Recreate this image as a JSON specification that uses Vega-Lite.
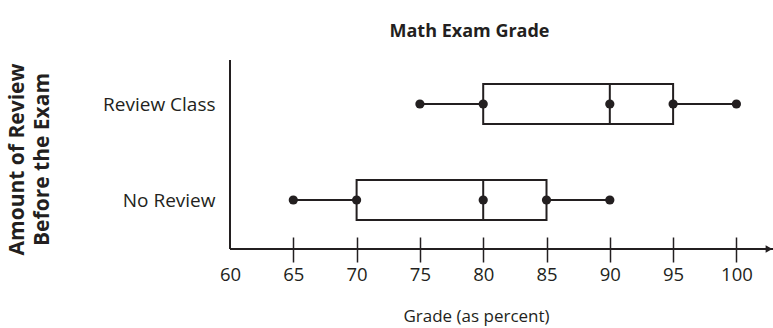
{
  "$schema": "https://vega.github.io/schema/vega-lite/v6.json",
  "width": 543,
  "height": 189,
  "autosize": {"type": "none"},
  "padding": {"left": 230, "top": 60, "right": 0, "bottom": 79},
  "background": "white",
  "config": {
    "view": {"stroke": null},
    "font": "Open Sans",
    "axis": {"labelColor": "#231f20", "titleColor": "#231f20", "domainColor": "#231f20", "tickColor": "#231f20"}
  },
  "title": {
    "text": "Math Exam Grade",
    "font": "Open Sans",
    "fontSize": 18,
    "fontWeight": "bold",
    "color": "#231f20",
    "anchor": "middle",
    "dx": -32,
    "offset": 18
  },
  "datasets": {
    "boxes": [
      {"group": "Review Class", "min": 75, "q1": 80, "median": 90, "q3": 95, "max": 100},
      {"group": "No Review", "min": 65, "q1": 70, "median": 80, "q3": 85, "max": 90}
    ]
  },
  "layer": [
    {
      "data": {"name": "boxes"},
      "mark": {"type": "rule", "color": "#231f20", "strokeWidth": 2},
      "encoding": {
        "x": {"field": "min", "type": "quantitative",
          "scale": {"domain": [60, 102.89], "nice": false, "zero": false},
          "axis": {
            "title": "Grade (as percent)",
            "orient": "bottom",
            "values": [60, 65, 70, 75, 80, 85, 90, 95, 100],
            "offset": -12,
            "tickSize": 25,
            "tickWidth": 1.5,
            "tickOpacity": {"expr": "datum.value == 60 ? 0 : 1"},
            "domain": false,
            "grid": false,
            "labelFontSize": 18.5,
            "labelBaseline": "alphabetic",
            "labelPadding": 18,
            "labelFlush": false,
            "titleFontSize": 17,
            "titleFontWeight": "normal",
            "titleBaseline": "alphabetic",
            "titleAlign": "center",
            "titleX": 246,
            "titleY": 84
          }
        },
        "x2": {"field": "max"},
        "y": {"field": "group", "type": "nominal",
          "scale": {"type": "point", "domain": ["Review Class", "No Review"], "range": [44, 140], "padding": 0},
          "axis": {
            "title": ["Amount of Review", "Before the Exam"],
            "titleFontSize": 21,
            "titleFontWeight": "bold",
            "titleLineHeight": 25,
            "titleBaseline": "middle",
            "titleAlign": "center",
            "titleAngle": -90,
            "titleX": -213,
            "titleY": 99,
            "labelFontSize": 19,
            "labelPadding": 15,
            "ticks": false,
            "domain": false,
            "grid": false
          }
        }
      }
    },
    {
      "data": {"name": "boxes"},
      "mark": {"type": "bar", "height": 40, "fill": "white", "stroke": "#231f20", "strokeWidth": 2},
      "encoding": {
        "x": {"field": "q1", "type": "quantitative"},
        "x2": {"field": "q3"},
        "y": {"field": "group", "type": "nominal"}
      }
    },
    {
      "data": {"name": "boxes"},
      "mark": {"type": "tick", "orient": "vertical", "size": 40, "thickness": 2, "color": "#231f20", "opacity": 1},
      "encoding": {
        "x": {"field": "median", "type": "quantitative"},
        "y": {"field": "group", "type": "nominal"}
      }
    },
    {
      "data": {"name": "boxes"},
      "transform": [{"fold": ["min", "q1", "median", "q3", "max"], "as": ["stat", "grade"]}],
      "mark": {"type": "circle", "size": 85, "color": "#231f20", "opacity": 1},
      "encoding": {
        "x": {"field": "grade", "type": "quantitative"},
        "y": {"field": "group", "type": "nominal"}
      }
    },
    {
      "data": {"values": [{"axis": "y"}]},
      "mark": {"type": "rule", "color": "#231f20", "strokeWidth": 2},
      "encoding": {
        "x": {"datum": 60, "type": "quantitative"},
        "y": {"value": 0},
        "y2": {"value": "height"}
      }
    },
    {
      "data": {"values": [{"axis": "x"}]},
      "mark": {"type": "rule", "color": "#231f20", "strokeWidth": 2},
      "encoding": {
        "x": {"datum": 60, "type": "quantitative"},
        "x2": {"value": "width"},
        "y": {"value": "height"}
      }
    },
    {
      "data": {"values": [{"axis": "x"}]},
      "mark": {"type": "point", "shape": "triangle-right", "filled": true, "size": 60, "color": "#231f20", "opacity": 1, "xOffset": -4},
      "encoding": {
        "x": {"value": "width"},
        "y": {"value": "height"}
      }
    }
  ]
}
